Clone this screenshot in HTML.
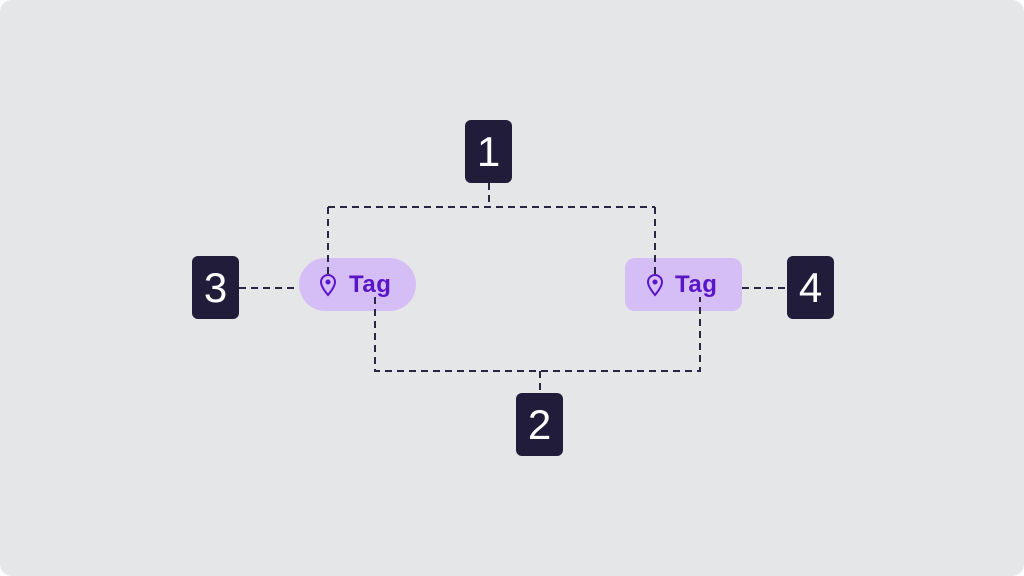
<!DOCTYPE html>
<html><head><style>
html,body{margin:0;padding:0;background:#fff}
.wrap{position:relative;width:1024px;height:576px;background:#e5e6e8;border-radius:12px;overflow:hidden;font-family:"Liberation Sans",sans-serif}
.box{position:absolute;width:47px;height:63px;background:#221c3b;border-radius:6px;color:#fff;font-size:42px;display:flex;align-items:center;justify-content:center}
.tag{position:absolute;height:53px;background:#d5bdf6;color:#5a15c8;font-weight:bold;font-size:24px;letter-spacing:0.5px;display:flex;align-items:center}
svg{position:absolute;left:0;top:0}
</style></head><body><div class="wrap">
<div class="box" style="left:465px;top:120px">1</div>
<div class="box" style="left:192px;top:256px">3</div>
<div class="box" style="left:787px;top:256px">4</div>
<div class="box" style="left:516px;top:393px">2</div>
<div class="tag" style="left:299px;top:258px;width:117px;border-radius:27px"><span style="position:absolute;left:50px;top:13px">Tag</span></div>
<div class="tag" style="left:625px;top:258px;width:117px;border-radius:10px"><span style="position:absolute;left:50px;top:13px">Tag</span></div>
<svg width="1024" height="576">
<g fill="none" stroke="#2a2540" stroke-width="2" stroke-dasharray="7,5">
<path d="M489 183V207M328 207H655M328 207V276M655 207V276"/>
<path d="M375 297V371H700V297M540 371V393"/>
<path d="M239 288H299M742 288H787"/>
</g>
<g fill="none" stroke="#5a15c8" stroke-width="2">
<path d="M328 295C323 289 321 285 321 282a7 7 0 0 1 14 0c0 3-2 7-7 13z"/>
<path d="M655 295C650 289 648 285 648 282a7 7 0 0 1 14 0c0 3-2 7-7 13z"/>
</g>
<circle cx="328" cy="282" r="2.5" fill="#5a15c8"/>
<circle cx="655" cy="282" r="2.5" fill="#5a15c8"/>
</svg>
</div></body></html>
